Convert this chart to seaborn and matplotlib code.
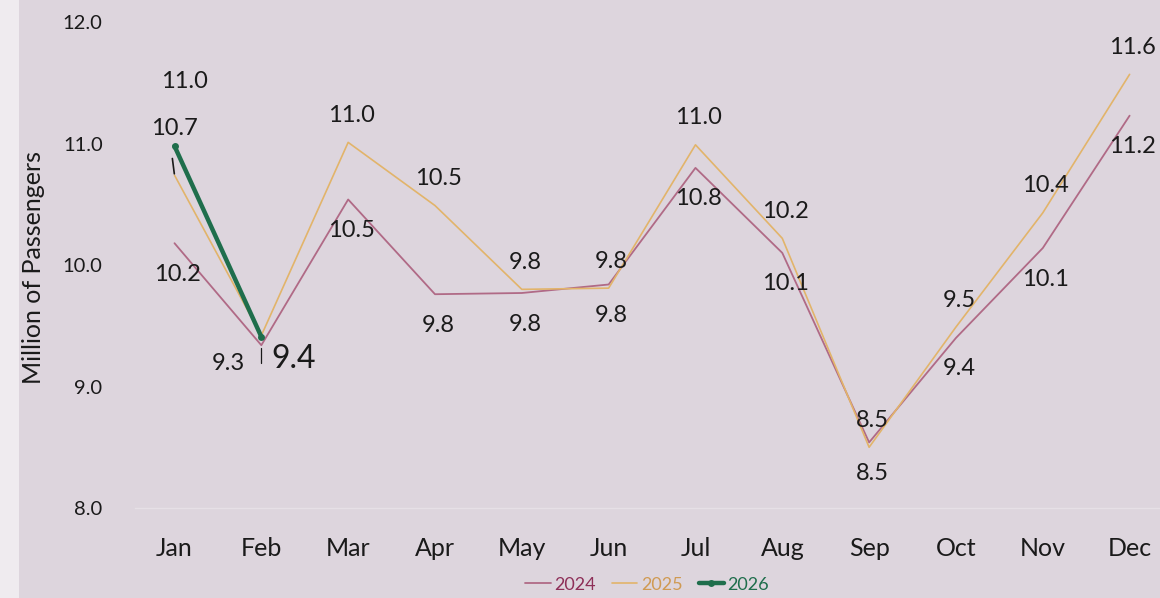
import numpy as np
import pandas as pd
import matplotlib
matplotlib.use('Agg')
import matplotlib.pyplot as plt
from matplotlib.patches import Rectangle
import seaborn as sns

# --- dados ---
MONTHS = ['Jan', 'Feb', 'Mar', 'Apr', 'May', 'Jun', 'Jul', 'Aug', 'Sep', 'Oct', 'Nov', 'Dec']
Y2024 = [10.18, 9.34, 10.54, 9.76, 9.77, 9.84, 10.80, 10.10, 8.54, 9.40, 10.14, 11.23]
Y2025 = [10.74, 9.42, 11.01, 10.49, 9.80, 9.81, 10.99, 10.22, 8.50, 9.49, 10.43, 11.57]
Y2026 = [10.98, 9.41]
Y_TICKS = [8.0, 9.0, 10.0, 11.0, 12.0]

BG = '#ddd5dd'
C24, C25, C26 = '#b06a86', '#e2b46a', '#1f6e4c'
TXT24, TXT25 = '#8e2f58', '#d09a52'

sns.set_style('white')
plt.rcParams['font.family'] = ['Lato', 'DejaVu Sans']

fig = plt.figure(figsize=(11.6, 5.98), dpi=100, facecolor=BG)
fig.patches.append(Rectangle((0, 0), 0.016, 1, transform=fig.transFigure,
                             facecolor='#efebef', edgecolor='none', zorder=-10))
ax = fig.add_axes([0.116, 0.1505, 0.884, 0.8125])
ax.set_facecolor(BG)

x_all = np.arange(len(MONTHS))
sns.lineplot(x=x_all, y=Y2024, ax=ax, color=C24, linewidth=1.3, label='2024')
sns.lineplot(x=x_all, y=Y2025, ax=ax, color=C25, linewidth=1.2, label='2025')
sns.lineplot(x=x_all[:len(Y2026)], y=Y2026, ax=ax, color=C26, linewidth=3.2,
             marker='o', markersize=5, markeredgewidth=0, label='2026')

# rótulos
fs = 17
for i, v in enumerate(Y2024):
    if i == 1:
        ax.annotate(f'{v:.1f}', (i, v), xytext=(-33, -18), textcoords='offset pixels',
                    ha='center', va='center', fontsize=fs, color='#1a1a1a',
                    arrowprops=dict(arrowstyle='-', color='#1a1a1a', lw=0.9,
                                    connectionstyle='angle,angleA=0,angleB=90,rad=0',
                                    shrinkA=9, shrinkB=2))
        continue
    ax.annotate(f'{v:.1f}', (i, v), xytext=(3, -31), textcoords='offset pixels',
                ha='center', va='center', fontsize=fs, color='#1a1a1a')
for i, v in enumerate(Y2025):
    if i == 1:
        continue
    if i == 0:
        ax.annotate(f'{v:.1f}', (i, v), xytext=(0, 47), textcoords='offset pixels',
                    ha='center', va='center', fontsize=fs, color='#1a1a1a',
                    arrowprops=dict(arrowstyle='-', color='#1a1a1a', lw=1.2,
                                    shrinkA=12, shrinkB=1, relpos=(0.4, 0)))
        continue
    ax.annotate(f'{v:.1f}', (i, v), xytext=(3, 27), textcoords='offset pixels',
                ha='center', va='center', fontsize=fs, color='#1a1a1a')
ax.annotate(f'{Y2026[0]:.1f}', (0, Y2026[0]), xytext=(10, 65), textcoords='offset pixels',
            ha='center', va='center', fontsize=fs, color='#1a1a1a')
ax.annotate(f'{Y2026[1]:.1f}', (1, Y2026[1]), xytext=(10, -22), textcoords='offset pixels',
            ha='left', va='center', fontsize=23, color='#1a1a1a')

ax.set_xlim(-0.46, 11.35)
ax.set_ylim(8.0, 12.0)
ax.set_xticks(x_all)
ax.set_xticklabels(MONTHS, fontsize=18, color='#1a1a1a')
ax.set_yticks(Y_TICKS)
ax.set_yticklabels([f'{t:.1f}' for t in Y_TICKS], fontsize=14.5, color='#1a1a1a')
ax.tick_params(axis='x', length=0, pad=21)
ax.tick_params(axis='y', length=0, pad=23)
ax.set_ylabel('Million of Passengers', fontsize=18, color='#1a1a1a')
ax.yaxis.set_label_coords(-0.087, 0.496)
ax.set_xlabel('')
for s in ['top', 'right', 'left']:
    ax.spines[s].set_visible(False)
ax.spines['bottom'].set_color('#e6e0e6')
ax.spines['bottom'].set_linewidth(1.0)
ax.grid(False)

leg = ax.legend(loc='center', bbox_to_anchor=(0.5, -0.158), ncol=3, frameon=False,
                fontsize=13, handlelength=1.4, handletextpad=0.2, columnspacing=0.9,
                borderpad=0.1)
for t, c in zip(leg.get_texts(), [TXT24, TXT25, C26]):
    t.set_color(c)

fig.savefig('out.png', dpi=100, facecolor=BG)
